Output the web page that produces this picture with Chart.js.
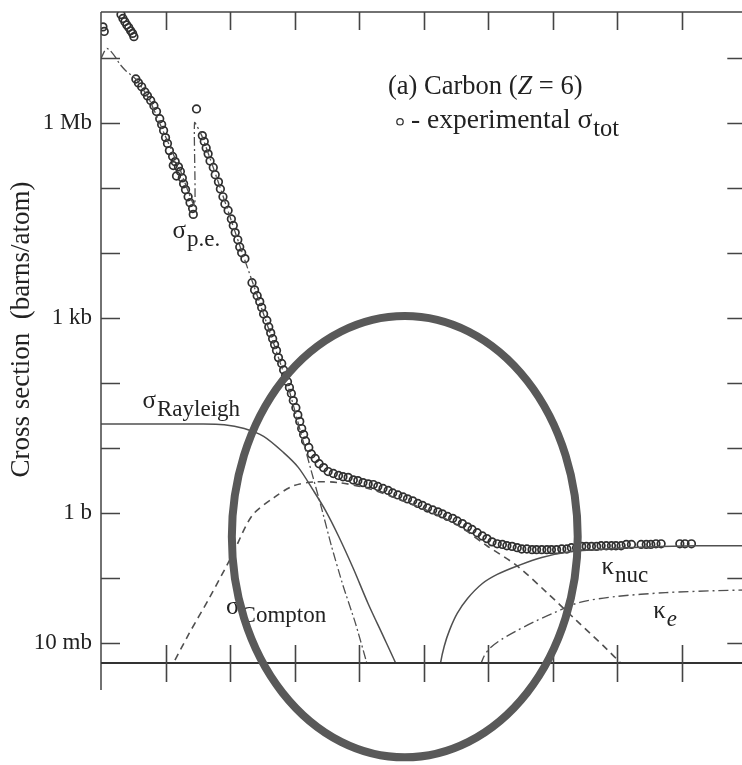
<!DOCTYPE html>
<html>
<head>
<meta charset="utf-8">
<script src="https://cdn.jsdelivr.net/npm/chart.js@4.4.1/dist/chart.umd.min.js"></script>
<style>
  html, body { margin: 0; padding: 0; background: #fff; overflow: hidden; }
  #wrap { width: 752px; height: 765px; }
  canvas { display: block; }
</style>
</head>
<body>
<div id="wrap"><canvas id="c" width="752" height="765"></canvas></div>
<script>
// Photon cross sections in carbon, tabulated as log10(E / eV) and log10(sigma / barn).

// measured total cross section (open circles)
const expLogE = [
  1.03, 1.05,
  1.31, 1.34, 1.37, 1.40, 1.43, 1.46, 1.49, 1.51,
  1.54, 1.58, 1.63, 1.68, 1.72, 1.77, 1.82, 1.86, 1.91, 1.94, 1.97, 2.00, 2.03, 2.06, 2.11,
  2.12, 2.15, 2.17, 2.20, 2.23, 2.26, 2.28, 2.31, 2.35, 2.38, 2.42, 2.43,
  2.48,
  2.57, 2.60, 2.63, 2.66, 2.69, 2.74, 2.77, 2.82, 2.85, 2.89, 2.92, 2.97, 3.02, 3.05, 3.08,
  3.12, 3.15, 3.18, 3.23,
  3.34, 3.38, 3.42, 3.46, 3.49, 3.52, 3.57, 3.60, 3.63, 3.66, 3.69, 3.72, 3.75, 3.80, 3.83,
  3.86, 3.89, 3.92, 3.95, 3.98, 4.02, 4.05, 4.08, 4.11, 4.14, 4.17, 4.22, 4.26, 4.32, 4.38,
  4.45, 4.52, 4.60, 4.68, 4.75, 4.83, 4.91, 4.98, 5.06, 5.14, 5.22, 5.29, 5.37, 5.45, 5.52,
  5.60, 5.68, 5.75, 5.83, 5.91, 5.98, 6.06, 6.14, 6.22, 6.29, 6.37, 6.45, 6.52, 6.60, 6.68,
  6.75, 6.83, 6.91, 6.98, 7.06, 7.14, 7.22, 7.29, 7.37, 7.45, 7.52, 7.60, 7.68, 7.75, 7.83,
  7.91, 7.98, 8.06, 8.14, 8.22, 8.29, 8.37, 8.45, 8.52, 8.60, 8.68, 8.75, 8.83, 8.91, 8.98,
  9.06, 9.14, 9.22, 9.37, 9.45, 9.52, 9.60, 9.68, 9.97, 10.05, 10.15
];
const expLogSigma = [
  7.47, 7.40,
  7.66, 7.60, 7.55, 7.50, 7.46, 7.41, 7.37, 7.32,
  6.67, 6.61, 6.55, 6.47, 6.41, 6.34, 6.26, 6.17, 6.06, 5.97, 5.88, 5.77, 5.68, 5.57, 5.48,
  5.34, 5.40, 5.18, 5.32, 5.25, 5.15, 5.06, 4.97, 4.86, 4.77, 4.68, 4.59,
  6.21,
  5.80, 5.71, 5.61, 5.52, 5.41, 5.31, 5.20, 5.09, 4.98, 4.86, 4.75, 4.65, 4.52, 4.42, 4.31,
  4.20, 4.09, 4.00, 3.91,
  3.54, 3.43, 3.34, 3.25, 3.16, 3.06, 2.96, 2.86, 2.77, 2.68, 2.59, 2.50, 2.39, 2.30, 2.20,
  2.11, 2.02, 1.93, 1.84, 1.73, 1.62, 1.51, 1.41, 1.30, 1.21, 1.11, 1.01, 0.91, 0.84, 0.76,
  0.70, 0.64, 0.61, 0.58, 0.56, 0.55, 0.51, 0.50, 0.47, 0.45, 0.44, 0.41, 0.38, 0.35, 0.31,
  0.28, 0.25, 0.22, 0.19, 0.15, 0.12, 0.08, 0.05, 0.02, -0.01, -0.05, -0.08, -0.12, -0.16, -0.21,
  -0.25, -0.30, -0.35, -0.39, -0.44, -0.47, -0.48, -0.50, -0.51, -0.53, -0.55, -0.55, -0.56, -0.56, -0.56,
  -0.56, -0.56, -0.56, -0.55, -0.55, -0.53, -0.53, -0.51, -0.51, -0.51, -0.51, -0.50, -0.50, -0.50, -0.50,
  -0.50, -0.48, -0.48, -0.48, -0.48, -0.48, -0.47, -0.47, -0.47, -0.47, -0.47
];

// atomic photoeffect (dash-dot), with the K edge at 284 eV
const peLogE = [1.00, 1.05, 1.09, 1.14, 1.22, 1.29, 1.38, 1.48, 1.55, 1.75, 1.98, 2.22, 2.45, 2.45,
  2.57, 2.83, 3.14, 3.45, 3.75, 3.91, 4.06, 4.25, 4.42, 4.57, 4.75, 4.94, 5.11, 5.15];
const peLogSigma = [6.98, 7.09, 7.14, 7.11, 7.01, 6.90, 6.80, 6.72, 6.66, 6.35, 5.83, 5.29, 4.72, 6.00,
  5.78, 5.05, 4.14, 3.26, 2.39, 1.91, 1.37, 0.68, 0.07, -0.50, -1.11, -1.68, -2.27, -2.45];

// coherent (Rayleigh) scattering
const rayLogE = [1.00, 2.52, 2.91, 3.22, 3.52, 3.83, 4.06, 4.29, 4.48, 4.68, 4.91, 5.14, 5.37, 5.57, 5.65];
const rayLogSigma = [1.37, 1.37, 1.36, 1.30, 1.18, 0.93, 0.70, 0.35, 0.04, -0.35, -0.85, -1.39, -1.88, -2.31, -2.50];

// incoherent (Compton) scattering
const comLogE = [2.06, 2.37, 2.68, 3.03, 3.34, 3.68, 3.98, 4.29, 4.68, 5.14, 5.60, 6.06, 6.52, 6.98,
  7.45, 7.91, 8.37, 8.83, 9.06, 9.17];
const comLogSigma = [-2.42, -1.84, -1.30, -0.65, -0.04, 0.24, 0.42, 0.48, 0.47, 0.38, 0.22, 0.04, -0.18, -0.50,
  -0.81, -1.22, -1.65, -2.08, -2.31, -2.42];

// pair production in the nuclear field
const nucLogE = [6.25, 6.26, 6.32, 6.40, 6.52, 6.68, 6.91, 7.14, 7.45, 7.83, 8.29, 8.83, 9.45, 10.22, 11.00];
const nucLogSigma = [-2.45, -2.31, -2.04, -1.80, -1.54, -1.31, -1.08, -0.94, -0.81, -0.68, -0.59, -0.55, -0.52, -0.50, -0.50];

// pair production in the electron field
const elLogE = [6.88, 6.94, 7.03, 7.22, 7.45, 7.75, 8.02, 8.42, 8.98, 9.75, 10.52, 11.00];
const elLogSigma = [-2.33, -2.19, -2.07, -1.93, -1.80, -1.65, -1.53, -1.37, -1.28, -1.22, -1.19, -1.18];

// axis ranges and labelled decades
const energyRange = [1e1, 1e11];          // 10 eV .. 100 GeV
const sigmaRange = [5e-3, 5e7];           // 5 mb .. 50 Mb
const sigmaTickLabels = { '-2': '10 mb', '0': '1 b', '3': '1 kb', '6': '1 Mb' };
const yTitle = 'Cross section  (barns/atom)';

const toPoints = (lx, ly) => lx.map((v, i) => ({ x: Math.pow(10, v), y: Math.pow(10, ly[i]) }));

const SERIF = "'Liberation Serif', 'Times New Roman', serif";
const INK = '#222';

function decadeTicks(scale) {
  const lo = Math.ceil(Math.log10(scale.min) - 1e-9);
  const hi = Math.floor(Math.log10(scale.max) + 1e-9);
  const t = [];
  for (let k = lo; k <= hi; k++) t.push({ value: Math.pow(10, k) });
  scale.ticks = t;
}

// text annotations, anchored in data units (energy in eV, cross section in barns)
const curveLabels = [
  { e: 128,   s: 1.71e4,  main: 'σ', sub: 'p.e.' },
  { e: 44,    s: 41.8,    main: 'σ', sub: 'Rayleigh' },
  { e: 867,   s: 0.0286,  main: 'σ', sub: 'Compton' },
  { e: 5.7e8, s: 0.118,   main: 'κ', sub: 'nuc' },
  { e: 3.6e9, s: 0.0248,  main: 'κ', sub: 'e', italicSub: true }
];
const panelTitleAt = { e: 2.8e5, s: 2.78e6 };
const legendAt = { e: 4.3e5, s: 1.03e6 };
// highlight ring: centre in data units, half-axes in decades
const ring = { e: 5.1e5, s: 0.436, rxDecades: 2.68, ryDecades: 3.39 };

const framePlugin = {
  id: 'frame',
  afterDraw(chart) {
    const { ctx, chartArea: a, scales: { x, y } } = chart;
    ctx.save();
    // frame
    ctx.strokeStyle = '#444';
    ctx.lineWidth = 1.5;
    ctx.beginPath();
    ctx.moveTo(a.left, a.top); ctx.lineTo(a.right, a.top);
    ctx.moveTo(a.left, a.top); ctx.lineTo(a.left, a.bottom + 27);
    ctx.moveTo(a.right, a.top); ctx.lineTo(a.right, a.bottom);
    ctx.stroke();
    ctx.strokeStyle = '#333';
    ctx.lineWidth = 2;
    ctx.beginPath();
    ctx.moveTo(a.left, a.bottom); ctx.lineTo(a.right, a.bottom);
    ctx.stroke();
    // inward decade ticks
    ctx.strokeStyle = '#444';
    ctx.lineWidth = 1.6;
    ctx.beginPath();
    x.ticks.forEach(t => {
      const px = Math.round(x.getPixelForValue(t.value)) + 0.5;
      if (px <= a.left + 2 || px >= a.right - 2) return;
      ctx.moveTo(px, a.top); ctx.lineTo(px, a.top + 18);
      ctx.moveTo(px, a.bottom - 18); ctx.lineTo(px, a.bottom + 19);
    });
    y.ticks.forEach(t => {
      const py = Math.round(y.getPixelForValue(t.value)) + 0.5;
      if (py <= a.top + 2 || py >= a.bottom - 2) return;
      ctx.moveTo(a.left, py); ctx.lineTo(a.left + 19, py);
      ctx.moveTo(a.right - 19, py); ctx.lineTo(a.right, py);
    });
    ctx.stroke();

    ctx.fillStyle = INK;
    ctx.textAlign = 'left';
    ctx.textBaseline = 'alphabetic';

    // y-axis title
    ctx.save();
    ctx.translate(22, (a.top + a.bottom) / 2 - 8);
    ctx.rotate(-Math.PI / 2);
    ctx.textAlign = 'center';
    ctx.textBaseline = 'middle';
    ctx.font = `27px ${SERIF}`;
    ctx.fillText(yTitle, 0, 0);
    ctx.restore();

    // curve labels
    curveLabels.forEach(l => {
      const px = x.getPixelForValue(l.e), py = y.getPixelForValue(l.s);
      ctx.font = `25px ${SERIF}`;
      ctx.fillText(l.main, px, py);
      const w = ctx.measureText(l.main).width;
      ctx.font = `${l.italicSub ? 'italic ' : ''}23px ${SERIF}`;
      ctx.fillText(l.sub, px + w + 1, py + 8);
    });

    // panel title
    let tx = x.getPixelForValue(panelTitleAt.e), ty = y.getPixelForValue(panelTitleAt.s);
    const parts = [['(a) Carbon (', ''], ['Z', 'italic '], [' = 6)', '']];
    parts.forEach(([txt, st]) => {
      ctx.font = `${st}26.5px ${SERIF}`;
      ctx.fillText(txt, tx, ty);
      tx += ctx.measureText(txt).width;
    });

    // legend entry
    const lx = x.getPixelForValue(legendAt.e), ly = y.getPixelForValue(legendAt.s);
    ctx.strokeStyle = '#333';
    ctx.lineWidth = 1.3;
    ctx.beginPath(); ctx.arc(lx, ly, 3.2, 0, Math.PI * 2); ctx.stroke();
    ctx.font = `27.5px ${SERIF}`;
    let gx = lx + 11;
    ctx.fillText('- experimental ', gx, ly + 6);
    gx += ctx.measureText('- experimental ').width;
    ctx.fillText('σ', gx, ly + 6);
    gx += ctx.measureText('σ').width + 1;
    ctx.font = `24.5px ${SERIF}`;
    ctx.fillText('tot', gx, ly + 14);

    // highlight ring
    const cx = x.getPixelForValue(ring.e), cy = y.getPixelForValue(ring.s);
    const rx = x.getPixelForValue(ring.e * Math.pow(10, ring.rxDecades)) - cx;
    const ry = cy - y.getPixelForValue(ring.s * Math.pow(10, ring.ryDecades));
    ctx.strokeStyle = '#595959';
    ctx.lineWidth = 8;
    ctx.beginPath();
    ctx.ellipse(cx, cy, rx, ry, 0, 0, Math.PI * 2);
    ctx.stroke();
    ctx.restore();
  }
};

const lineStyle = (dash, width, tension) => ({
  showLine: true, pointRadius: 0, borderColor: '#505050', borderWidth: width,
  borderDash: dash, tension: tension, fill: false
});

new Chart(document.getElementById('c'), {
  type: 'scatter',
  data: {
    datasets: [
      Object.assign({ label: 'σ p.e.', data: toPoints(peLogE, peLogSigma) }, lineStyle([9, 3, 2, 3], 1.3, 0.15)),
      Object.assign({ label: 'σ Rayleigh', data: toPoints(rayLogE, rayLogSigma) }, lineStyle([], 1.5, 0.3)),
      Object.assign({ label: 'σ Compton', data: toPoints(comLogE, comLogSigma) }, lineStyle([7, 5], 1.6, 0.3)),
      Object.assign({ label: 'κ nuc', data: toPoints(nucLogE, nucLogSigma) }, lineStyle([], 1.5, 0.3)),
      Object.assign({ label: 'κ e', data: toPoints(elLogE, elLogSigma) }, lineStyle([10, 4, 2, 4], 1.4, 0.3)),
      {
        label: 'experimental σ tot',
        data: toPoints(expLogE, expLogSigma),
        showLine: false,
        pointStyle: 'circle',
        pointRadius: 3.8,
        borderWidth: 1.7,
        borderColor: '#303030',
        backgroundColor: 'rgba(255,255,255,0)'
      }
    ]
  },
  options: {
    responsive: false,
    animation: false,
    events: [],
    layout: { padding: { top: 12, right: 1, left: 0, bottom: 0 } },
    plugins: { legend: { display: false }, tooltip: { enabled: false } },
    scales: {
      x: {
        type: 'logarithmic',
        min: energyRange[0], max: energyRange[1],
        grid: { display: false, drawTicks: false },
        border: { display: false },
        ticks: { display: false },
        afterBuildTicks: decadeTicks,
        afterFit(s) { s.height = 102; s.paddingLeft = 0; s.paddingRight = 0; }
      },
      y: {
        type: 'logarithmic',
        min: sigmaRange[0], max: sigmaRange[1],
        grid: { display: false, drawTicks: false },
        border: { display: false },
        afterBuildTicks: decadeTicks,
        ticks: {
          padding: 9,
          color: INK,
          font: { family: SERIF, size: 23 },
          callback(v) {
            const k = String(Math.round(Math.log10(v)));
            return sigmaTickLabels[k] || '';
          }
        },
        afterFit(s) { s.width = 101; s.paddingTop = 0; s.paddingBottom = 0; }
      }
    }
  },
  plugins: [framePlugin]
});
</script>
</body>
</html>
